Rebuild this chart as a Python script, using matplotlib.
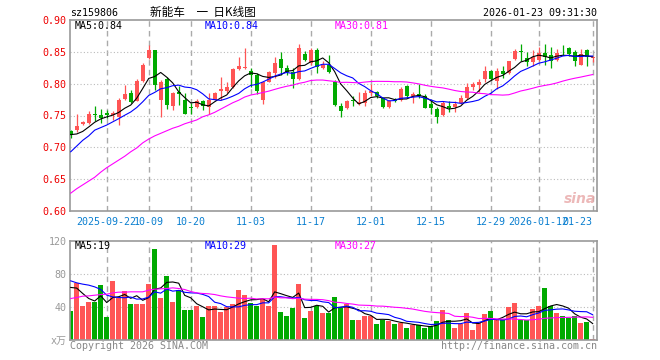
import numpy as np
import matplotlib.pyplot as plt

plt.rcParams['font.family'] = ['DejaVu Sans Mono', 'Noto Sans CJK SC']

# daily K-line, 2025-09-12 .. 2026-01-23 (88 trading days)
opens = [0.725, 0.727, 0.737, 0.739, 0.753, 0.750, 0.754, 0.750, 0.748, 0.776,
         0.786, 0.773, 0.804, 0.840, 0.853, 0.774, 0.807, 0.765, 0.787, 0.775,
         0.763, 0.763, 0.772, 0.763, 0.775, 0.789, 0.788, 0.795, 0.823, 0.824,
         0.820, 0.813, 0.774, 0.803, 0.817, 0.839, 0.825, 0.819, 0.807, 0.847,
         0.832, 0.853, 0.824, 0.829, 0.802, 0.765, 0.761, 0.775, 0.768, 0.769,
         0.786, 0.787, 0.777, 0.763, 0.774, 0.774, 0.796, 0.780, 0.783, 0.780,
         0.768, 0.760, 0.751, 0.765, 0.763, 0.769, 0.777, 0.795, 0.798, 0.807,
         0.820, 0.804, 0.820, 0.816, 0.839, 0.852, 0.841, 0.834, 0.837, 0.848,
         0.845, 0.837, 0.850, 0.856, 0.850, 0.830, 0.853, 0.841]
highs = [0.727, 0.753, 0.742, 0.757, 0.765, 0.760, 0.758, 0.757, 0.777, 0.798,
         0.790, 0.807, 0.832, 0.861, 0.853, 0.805, 0.811, 0.787, 0.796, 0.785,
         0.770, 0.776, 0.774, 0.785, 0.787, 0.811, 0.803, 0.824, 0.842, 0.856,
         0.824, 0.816, 0.803, 0.820, 0.842, 0.849, 0.829, 0.824, 0.862, 0.851,
         0.856, 0.856, 0.836, 0.845, 0.806, 0.769, 0.774, 0.780, 0.787, 0.790,
         0.799, 0.788, 0.778, 0.775, 0.777, 0.794, 0.798, 0.787, 0.799, 0.783,
         0.774, 0.764, 0.772, 0.772, 0.772, 0.782, 0.801, 0.803, 0.808, 0.828,
         0.821, 0.824, 0.827, 0.836, 0.854, 0.862, 0.850, 0.853, 0.857, 0.862,
         0.857, 0.854, 0.861, 0.857, 0.853, 0.854, 0.854, 0.844]
lows = [0.714, 0.724, 0.735, 0.736, 0.742, 0.739, 0.746, 0.743, 0.735, 0.774,
        0.769, 0.772, 0.803, 0.839, 0.790, 0.748, 0.760, 0.759, 0.767, 0.752,
        0.753, 0.762, 0.759, 0.752, 0.774, 0.775, 0.785, 0.793, 0.821, 0.823,
        0.794, 0.783, 0.768, 0.802, 0.809, 0.813, 0.813, 0.793, 0.806, 0.836,
        0.830, 0.816, 0.823, 0.816, 0.765, 0.747, 0.760, 0.765, 0.767, 0.765,
        0.781, 0.777, 0.762, 0.762, 0.771, 0.773, 0.777, 0.769, 0.777, 0.761,
        0.753, 0.739, 0.750, 0.755, 0.755, 0.768, 0.776, 0.790, 0.787, 0.803,
        0.806, 0.792, 0.809, 0.815, 0.837, 0.835, 0.827, 0.828, 0.836, 0.829,
        0.824, 0.835, 0.845, 0.844, 0.827, 0.829, 0.827, 0.834]
closes = [0.720, 0.734, 0.740, 0.753, 0.750, 0.746, 0.750, 0.754, 0.774, 0.783,
          0.771, 0.804, 0.830, 0.853, 0.798, 0.803, 0.767, 0.785, 0.783, 0.753,
          0.761, 0.772, 0.765, 0.774, 0.786, 0.791, 0.795, 0.823, 0.827, 0.826,
          0.813, 0.789, 0.802, 0.819, 0.833, 0.825, 0.819, 0.807, 0.856, 0.837,
          0.853, 0.826, 0.830, 0.818, 0.767, 0.757, 0.773, 0.773, 0.771, 0.786,
          0.788, 0.780, 0.763, 0.772, 0.772, 0.792, 0.781, 0.783, 0.780, 0.762,
          0.761, 0.748, 0.769, 0.761, 0.768, 0.778, 0.794, 0.799, 0.803, 0.820,
          0.807, 0.820, 0.815, 0.835, 0.851, 0.849, 0.834, 0.842, 0.848, 0.842,
          0.836, 0.848, 0.849, 0.846, 0.835, 0.846, 0.842, 0.842]
# volume, 万手
volumes = [34.9, 68.6, 41.3, 45.8, 45.8, 66.5, 27.6, 71.4, 51.1, 59.2,
           43.4, 43.4, 43.4, 67.7, 110.0, 50.7, 77.4, 45.8, 60.4, 36.1,
           36.1, 41.3, 27.6, 41.3, 41.3, 33.7, 39.8, 43.8, 60.4, 54.7,
           44.6, 41.3, 49.5, 41.3, 115.0, 33.7, 29.2, 38.9, 67.7, 26.7,
           35.3, 41.8, 32.8, 32.8, 52.3, 38.9, 44.2, 24.0, 24.0, 28.8,
           28.8, 19.1, 24.8, 22.7, 19.5, 20.7, 14.2, 17.9, 17.9, 14.2,
           16.7, 22.7, 36.1, 24.0, 14.2, 19.9, 33.3, 11.8, 20.7, 31.2,
           34.9, 24.0, 26.0, 39.4, 44.6, 24.8, 24.0, 37.3, 41.0, 62.9,
           41.0, 32.8, 28.8, 27.2, 28.8, 20.7, 21.9, 1.0]

# moving-average values at the left edge (earlier days not shown)
ma5_head = [0.720, 0.721, 0.725, 0.732]
ma10_head = [0.693, 0.702, 0.711, 0.718, 0.727, 0.731, 0.735, 0.740, 0.745]
ma30_head = [0.628, 0.635, 0.641, 0.647, 0.653, 0.661, 0.668, 0.674, 0.680, 0.686,
             0.693, 0.699, 0.707, 0.713, 0.718, 0.722, 0.726, 0.730, 0.733, 0.737,
             0.740, 0.743, 0.748, 0.751, 0.755, 0.760, 0.765, 0.770, 0.774]
vma5_head = [63.7, 62.9, 56.4, 50.3]
vma10_head = [71.7, 69.3, 67.7, 66.5, 64.4, 61.3, 54.4, 52.3, 51.5]
vma30_head = [50.3, 51.5, 53.1, 53.5, 54.3, 55.1, 55.5, 57.1, 58.0, 58.0,
              58.4, 58.4, 58.4, 60.4, 61.6, 62.0, 62.4, 63.2, 62.4, 61.2,
              58.8, 57.1, 56.4, 56.0, 55.1, 53.5, 52.3, 51.5, 50.7]

tick_idx = [6, 13, 20, 30, 40, 50, 60, 70, 78, 87]
tick_labels = ['2025-09-22', '10-09', '10-20', '11-03', '11-17', '12-01',
               '12-15', '12-29', '2026-01-12', '01-23']


def moving_avg(vals, n, head):
    v = np.asarray(vals, dtype=float)
    return np.concatenate([head, np.convolve(v, np.ones(n) / n, mode='valid')])


RED = '#ff5555'
GREEN = '#00aa00'
GRAY = '#999999'
BLUE_TXT = '#0a7fd0'

o = np.array(opens); c = np.array(closes)
x = np.arange(len(closes))
col = np.where(c > o, RED, GREEN)

fig = plt.figure(figsize=(6.6, 3.6), dpi=100)
W, H = 660.0, 360.0
fx = lambda px: px / W
fy = lambda py: 1 - py / H

ax = fig.add_axes([fx(70), fy(211), 527 / W, 191 / H])
axv = fig.add_axes([fx(70), fy(340), 527 / W, 99 / H])

for a in (ax, axv):
    a.set_xlim(-0.12, 87.72)
    for s in a.spines.values():
        s.set_color(GRAY)
        s.set_linewidth(1.2)
    for t in tick_idx:
        a.axvline(t, color='#aaaaaa', lw=1.0, ls=(0, (4, 3)), zorder=0)

# price panel
for lv in [0.65, 0.70, 0.75, 0.80, 0.85]:
    ax.axhline(lv, color='#bbbbbb', lw=0.8, ls=(0, (1, 2)), zorder=0)
ax.vlines(x, lows, highs, colors=col, lw=0.9, zorder=2)
body = np.maximum(np.abs(c - o), 0.0008)
ax.bar(x, body, bottom=np.minimum(o, c), width=0.72, color=col, zorder=3)
ax.plot(x, moving_avg(closes, 5, ma5_head), color='black', lw=0.8, zorder=4)
ax.plot(x, moving_avg(closes, 10, ma10_head), color='#0000ff', lw=0.8, zorder=4)
ax.plot(x, moving_avg(closes, 30, ma30_head), color='#ff00ff', lw=0.8, zorder=4)
ax.set_ylim(0.60, 0.90)
ax.set_yticks([0.60, 0.65, 0.70, 0.75, 0.80, 0.85, 0.90],
              ['0.60', '0.65', '0.70', '0.75', '0.80', '0.85', '0.90'])
ax.set_xticks(tick_idx, tick_labels)
ax.tick_params(axis='y', length=0, pad=2.5, labelcolor='#ee0000', labelsize=7.2)
ax.tick_params(axis='x', length=0, pad=4.5, labelcolor=BLUE_TXT, labelsize=7.2)
ax.get_xticklabels()[-1].set_horizontalalignment('right')

# volume panel
for lv in [40, 80]:
    axv.axhline(lv, color='#bbbbbb', lw=0.8, ls=(0, (1, 2)), zorder=0)
axv.bar(x, volumes, width=0.78, color=col, zorder=2)
axv.plot(x, moving_avg(volumes, 5, vma5_head), color='black', lw=0.8, zorder=4)
axv.plot(x, moving_avg(volumes, 10, vma10_head), color='#0000ff', lw=0.8, zorder=4)
axv.plot(x, moving_avg(volumes, 30, vma30_head), color='#ff00ff', lw=0.8, zorder=4)
axv.set_ylim(0, 120)
axv.set_yticks([0, 40, 80, 120], ['x万', '40', '80', '120'])
axv.set_xticks([])
axv.tick_params(axis='y', length=0, pad=2.5, labelcolor=GRAY, labelsize=7.2)

fs = 7.2
fig.text(fx(70), fy(13), 'sz159806', fontsize=fs, va='center', ha='left')
fig.text(fx(150), fy(12.5), '新能车\u3000一  日K线图', fontsize=8.4, va='center', ha='left',
         family=['Noto Sans CJK SC', 'DejaVu Sans'])
fig.text(fx(597), fy(13), '2026-01-23 09:31:30', fontsize=fs, va='center', ha='right')

fig.text(fx(75), fy(26), 'MA5:0.84', fontsize=fs, va='center', color='black')
fig.text(fx(205), fy(26), 'MA10:0.84', fontsize=fs, va='center', color='#0000ff')
fig.text(fx(335), fy(26), 'MA30:0.81', fontsize=fs, va='center', color='#ff00ff')
fig.text(fx(75), fy(246), 'MA5:19', fontsize=fs, va='center', color='black')
fig.text(fx(205), fy(246), 'MA10:29', fontsize=fs, va='center', color='#0000ff')
fig.text(fx(335), fy(246), 'MA30:27', fontsize=fs, va='center', color='#ff00ff')

fig.text(fx(596), fy(199), 'sina', fontsize=10, va='center', ha='right', color='#e8a6a6',
         fontweight='bold', style='italic', family='DejaVu Sans', alpha=0.8)

fig.text(fx(70), fy(346), 'Copyright 2026 SINA.COM', fontsize=fs, va='center', ha='left', color='#888888')
fig.text(fx(597), fy(346), 'http://finance.sina.com.cn', fontsize=fs, va='center', ha='right', color='#888888')

fig.savefig('out.png', dpi=100)
